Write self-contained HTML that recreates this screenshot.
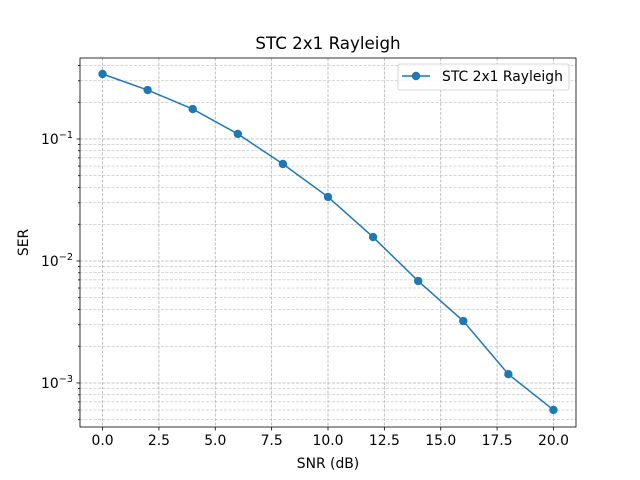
<!DOCTYPE html>
<html><head><meta charset="utf-8"><style>
body{margin:0;background:#fff}
svg{display:block;font-family:"DejaVu Sans","Liberation Sans",sans-serif}
</style></head><body>
<svg id="c" width="640" height="480"></svg>
<script>
const snr=[0,2,4,6,8,10,12,14,16,18,20];
const ser=[0.341,0.252,0.176,0.110,0.0624,0.0335,0.0157,0.00685,0.00322,0.00118,0.000601];
const xTicks=[0,2.5,5,7.5,10,12.5,15,17.5,20];
const xTickLabels=["0.0","2.5","5.0","7.5","10.0","12.5","15.0","17.5","20.0"];
const yDecades=[-3,-2,-1];
const L=80,R=576,T=58,B=427;
const xmin=-1,xmax=21,lmin=-3.361,lmax=-0.336;
const X=v=>L+(v-xmin)/(xmax-xmin)*(R-L);
const Y=v=>B-(Math.log10(v)-lmin)/(lmax-lmin)*(B-T);
const s=document.getElementById('c');const NS="http://www.w3.org/2000/svg";
function el(t,a,p){const e=document.createElementNS(NS,t);for(const k in a)e.setAttribute(k,a[k]);(p||s).appendChild(e);return e;}
const grid=el('g',{});


xTicks.forEach(t=>el('line',{x1:X(t),x2:X(t),y1:T,y2:B,stroke:'#b0b0b0','stroke-width':0.8,'stroke-dasharray':'3,1.5'},grid));
for(let d=-4;d<=0;d++)for(let m=1;m<10;m++){const v=m*Math.pow(10,d);const y=Y(v);if(y<T||y>B)continue;
 el('line',{x1:L,x2:R,y1:y,y2:y,stroke:'#b0b0b0','stroke-width':m==1?0.8:0.5,'stroke-dasharray':'3,1.5'},grid);
 el('line',{x1:L,x2:L-(m==1?3.5:2),y1:y,y2:y,stroke:'#000','stroke-width':0.8});}
el('rect',{x:L,y:T,width:R-L,height:B-T,fill:'none',stroke:'#000','stroke-width':0.8});
xTicks.forEach((t,i)=>{el('line',{x1:X(t),x2:X(t),y1:B,y2:B+3.5,stroke:'#000','stroke-width':0.8});
 const tx=el('text',{x:X(t),y:B+18,'font-size':13.9,'text-anchor':'middle'});tx.textContent=xTickLabels[i];
 });
yDecades.forEach(d=>{const tx=el('text',{x:L-7,y:Y(Math.pow(10,d))+5,'font-size':13.9,'text-anchor':'end'});
 tx.innerHTML='10<tspan dy="-6" font-size="9.7">−'+(-d)+'</tspan>';
 });
const line=el('polyline',{points:snr.map((v,i)=>X(v)+','+Y(ser[i])).join(' '),fill:'none',stroke:'#1f77b4','stroke-width':1.5});

snr.forEach((v,i)=>{const c=el('circle',{cx:X(v),cy:Y(ser[i]),r:4.2,fill:'#1f77b4'});
 });
const t=el('text',{x:(L+R)/2,y:T-9,'font-size':16.7,'text-anchor':'middle'});t.textContent='STC 2x1 Rayleigh';

const xl=el('text',{x:(L+R)/2,y:468,'font-size':13.9,'text-anchor':'middle'});xl.textContent='SNR (dB)';

const yl=el('text',{x:28,y:(T+B)/2,'font-size':13.9,'text-anchor':'middle',transform:'rotate(-90 28 '+(T+B)/2+')'});yl.textContent='SER';

const lg=el('g',{});
el('rect',{x:398,y:64,width:171,height:26,rx:2,fill:'#fff','fill-opacity':0.8,stroke:'#ccc','stroke-width':0.8},lg);
el('line',{x1:402,x2:430,y1:76,y2:76,stroke:'#1f77b4','stroke-width':1.5},lg);
el('circle',{cx:416,cy:76,r:4.2,fill:'#1f77b4'},lg);
const lt=el('text',{x:442,y:81,'font-size':13.9},lg);lt.textContent='STC 2x1 Rayleigh';
</script>
</body></html>
